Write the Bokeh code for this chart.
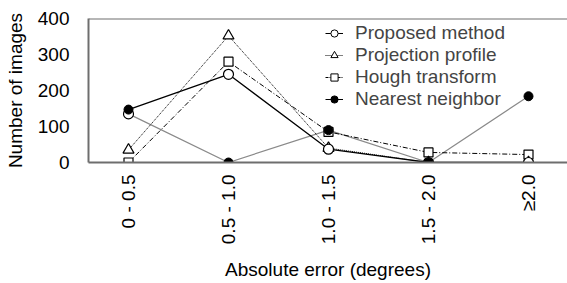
import math
from bokeh.plotting import figure
from bokeh.models import FixedTicker, Span, Legend, LegendItem
from bokeh.embed import file_html
from bokeh.resources import INLINE

categories = ["0 - 0.5", "0.5 - 1.0", "1.0 - 1.5", "1.5 - 2.0", "\u22652.0"]
proposed = [135, 245, 37, 0, 0]
projection = [35, 352, 40, 0, 0]
hough = [0, 280, 85, 28, 22]
nearest = [147, 0, 90, 0, 184]
y_ticks = [0, 100, 200, 300, 400]

xs = list(range(len(categories)))
# In the source figure the first segments of the two solid lines are crossed
proposed_line = [nearest[0]] + proposed[1:]
nearest_line = [proposed[0]] + nearest[1:]

FONT = "Liberation Sans"

p = figure(width=567, height=283, output_backend="svg", toolbar_location=None,
           x_range=(-0.4, 4.39), y_range=(0, 400),
           min_border_left=88, min_border_right=0, min_border_top=18, min_border_bottom=121)
p.outline_line_color = None
p.grid.visible = False
p.background_fill_color = "white"

for ax in (p.xaxis[0], p.yaxis[0]):
    ax.axis_line_color = "#6e6e6e"
    ax.axis_line_width = 2
    ax.major_tick_line_color = None
    ax.minor_tick_line_color = None
    ax.major_label_text_font = FONT
    ax.major_label_text_font_size = "19px"
    ax.major_label_text_color = "black"
    ax.axis_label_text_font = FONT
    ax.axis_label_text_font_size = "19px"
    ax.axis_label_text_font_style = "normal"
    ax.axis_label_text_color = "black"

p.xaxis.ticker = FixedTicker(ticks=xs)
p.xaxis.major_label_overrides = {i: c for i, c in enumerate(categories)}
p.xaxis.major_label_orientation = math.pi / 2
p.xaxis.major_label_standoff = 6
p.xaxis.axis_label = "Absolute error (degrees)"
p.xaxis.axis_label_standoff = 12

p.yaxis.ticker = FixedTicker(ticks=y_ticks)
p.yaxis.major_label_standoff = 13
p.yaxis.axis_label = "Number of images"
p.yaxis.axis_label_standoff = 9

p.add_layout(Span(location=400, dimension="width", line_color="#6e6e6e", line_width=2))

r_nn_line = p.line(xs, nearest_line, line_color="#8a8a8a", line_width=1.2)
r_hough_line = p.line(xs, hough, line_color="black", line_width=1, line_dash="5 2 1 2")
r_proj_line = p.line(xs, projection, line_color="black", line_width=1, line_dash="1 1")
r_prop_line = p.line(xs, proposed_line, line_color="black", line_width=1.3)

r_hough_m = p.scatter(xs, hough, marker="square", size=9, fill_color="white", line_color="black", line_width=1.2)
r_proj_m = p.scatter(xs, projection, marker="triangle", size=11, fill_color="white", line_color="black", line_width=1.2)
r_prop_m = p.scatter(xs, proposed, marker="circle", size=10, fill_color="white", line_color="black", line_width=1.2)
r_nn_m = p.scatter(xs, nearest, marker="circle", size=9, fill_color="black", line_color="black")

# legend-only glyphs
lg_prop_l = p.line([0], [0], line_color="black", line_width=1, visible=False)
lg_prop_m = p.scatter([0], [0], marker="circle", size=7, fill_color="white", line_color="black", visible=False)
lg_proj_l = p.line([0], [0], line_color="black", line_width=1, line_dash="1 1", visible=False)
lg_proj_m = p.scatter([0], [0], marker="triangle", size=8, fill_color="white", line_color="black", visible=False)
lg_hough_l = p.line([0], [0], line_color="black", line_width=1, line_dash="3 1 1 1", visible=False)
lg_hough_m = p.scatter([0], [0], marker="square", size=8, fill_color="white", line_color="black", visible=False)
lg_nn_l = p.line([0], [0], line_color="black", line_width=1, visible=False)
lg_nn_m = p.scatter([0], [0], marker="circle", size=8, fill_color="black", line_color="black", visible=False)

legend = Legend(items=[
    LegendItem(label="Proposed method", renderers=[lg_prop_l, lg_prop_m]),
    LegendItem(label="Projection profile", renderers=[lg_proj_l, lg_proj_m]),
    LegendItem(label="Hough transform", renderers=[lg_hough_l, lg_hough_m]),
    LegendItem(label="Nearest neighbor", renderers=[lg_nn_l, lg_nn_m]),
], location=(237, 52))
legend.label_text_font = FONT
legend.label_text_font_size = "19px"
legend.label_height = 22
legend.glyph_height = 22
legend.glyph_width = 18
legend.spacing = 0
legend.padding = 0
legend.margin = 0
legend.label_standoff = 12
legend.border_line_color = None
legend.background_fill_alpha = 0
p.add_layout(legend)

open("out.html", "w").write(file_html(p, INLINE))
